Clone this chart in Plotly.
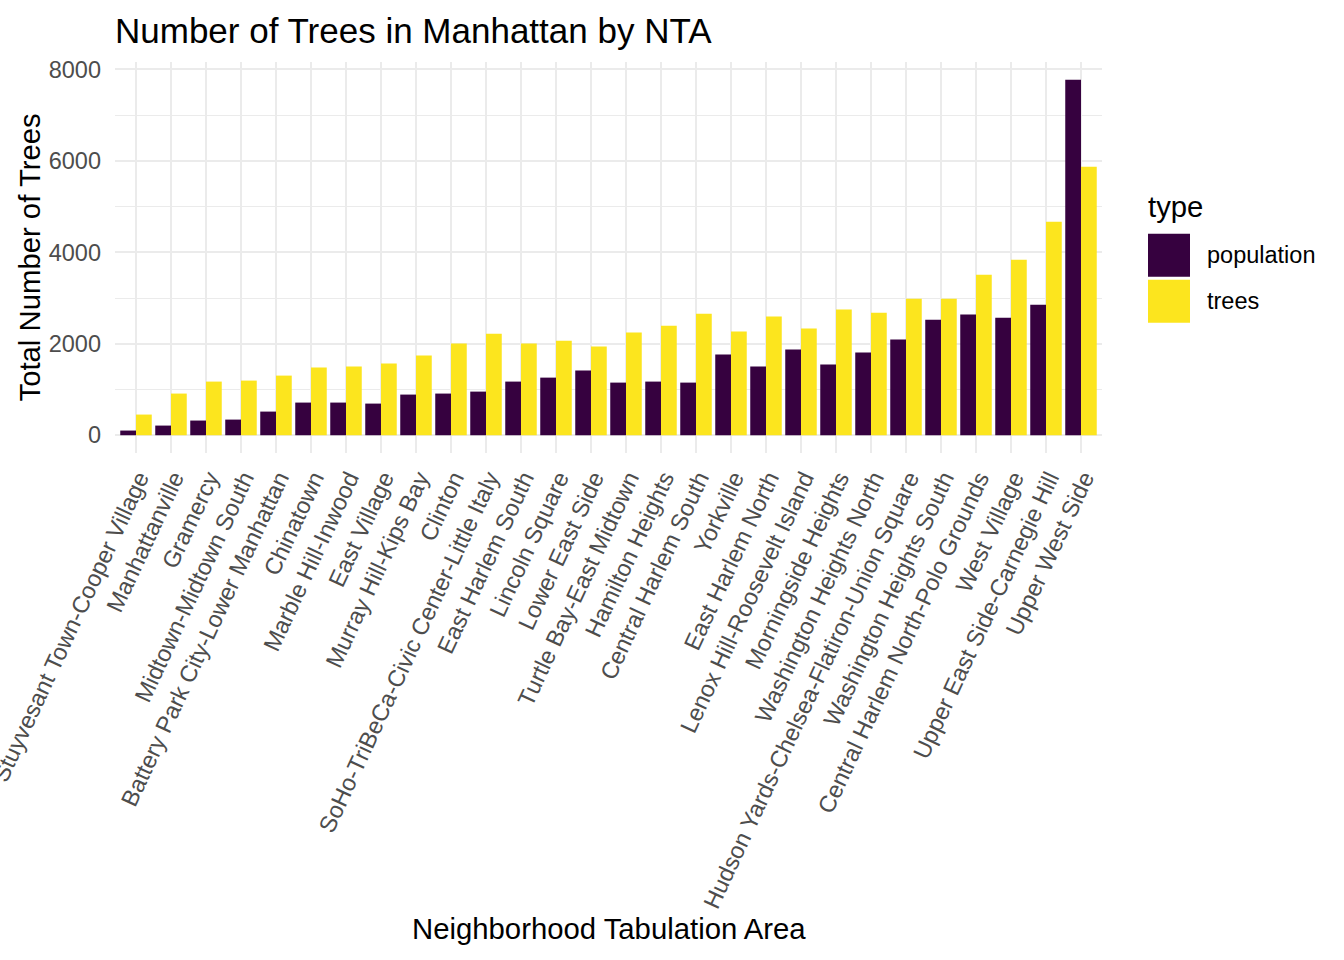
import plotly.graph_objects as go

# ---------------- data ----------------
neighborhoods = [
    "Stuyvesant Town-Cooper Village", "Manhattanville", "Gramercy",
    "Midtown-Midtown South", "Battery Park City-Lower Manhattan", "Chinatown",
    "Marble Hill-Inwood", "East Village", "Murray Hill-Kips Bay", "Clinton",
    "SoHo-TriBeCa-Civic Center-Little Italy", "East Harlem South", "Lincoln Square",
    "Lower East Side", "Turtle Bay-East Midtown", "Hamilton Heights",
    "Central Harlem South", "Yorkville", "East Harlem North",
    "Lenox Hill-Roosevelt Island", "Morningside Heights", "Washington Heights North",
    "Hudson Yards-Chelsea-Flatiron-Union Square", "Washington Heights South",
    "Central Harlem North-Polo Grounds", "West Village",
    "Upper East Side-Carnegie Hill", "Upper West Side",
]
population = [102, 211, 321, 342, 517, 714, 714, 692, 889, 911,
              954, 1173, 1260, 1413, 1151, 1173, 1151, 1763, 1501,
              1873, 1545, 1807, 2091, 2528, 2638, 2572, 2856, 7774]
trees = [452, 911, 1173, 1195, 1304, 1479, 1501, 1566, 1741, 2004,
         2222, 2004, 2069, 1938, 2244, 2397, 2659, 2266, 2594,
         2332, 2747, 2681, 2987, 2987, 3512, 3840, 4670, 5872]
series_names = ["population", "trees"]
y_tickvals = [0, 2000, 4000, 6000, 8000]

# ---------------- style ----------------
W, H = 1344, 960
L, R, T, B = 115, 1102, 62, 453.5
FONT = "Liberation Sans, Arial, Helvetica, sans-serif"
COLORS = {"population": "#36013F", "trees": "#FCE51E"}
GRID = "#EBEBEB"
TICK_COL = "#4D4D4D"


def px_x(px):
    return (px - L) / (R - L)


def px_y(py):
    return (B - py) / (B - T)


fig = go.Figure()
for name, vals in zip(series_names, [population, trees]):
    fig.add_trace(go.Bar(
        name=name, x=neighborhoods, y=vals,
        marker=dict(color=COLORS[name], line=dict(width=0)),
        showlegend=False,
    ))

ymax = max(max(population), max(trees))
pad = 0.05 * ymax
n = len(neighborhoods)

fig.update_layout(
    width=W, height=H,
    margin=dict(l=L, r=W - R, t=T, b=H - B, pad=0, autoexpand=False),
    paper_bgcolor="white", plot_bgcolor="white",
    barmode="group", bargap=0.1, bargroupgap=0,
    font=dict(family=FONT, color="black"),
    title=dict(text="Number of Trees in Manhattan by NTA",
               font=dict(size=35, color="black", family=FONT),
               x=L / W, xanchor="left", xref="container",
               y=1 - 31 / H, yanchor="middle", yref="container"),
    xaxis=dict(
        type="category", range=[-0.6, n - 0.4], automargin=False,
        tickangle=-65, tickfont=dict(size=23.5, color=TICK_COL, family=FONT),
        showgrid=True, gridcolor=GRID, gridwidth=2.2,
        showline=False, zeroline=False, ticks="",
        ticklabelstandoff=6, ticklabelshift=3,
    ),
    yaxis=dict(
        range=[-pad, ymax + pad], automargin=False,
        tickvals=y_tickvals, ticktext=[str(v) for v in y_tickvals],
        tickfont=dict(size=23.5, color=TICK_COL, family=FONT),
        showgrid=True, gridcolor=GRID, gridwidth=2.2,
        minor=dict(dtick=1000, tick0=0, showgrid=True, gridcolor=GRID, gridwidth=1.1),
        showline=False, zeroline=False, ticks="",
        ticklabelstandoff=13,
    ),
)

annotations = [
    dict(text="Neighborhood Tabulation Area", x=(px_x(L) + px_x(R)) / 2, y=px_y(930),
         xref="paper", yref="paper", xanchor="center", yanchor="middle",
         showarrow=False, font=dict(size=29.3, color="black", family=FONT)),
    dict(text="Total Number of Trees", x=px_x(29), y=0.5, textangle=-90,
         xref="paper", yref="paper", xanchor="center", yanchor="middle",
         showarrow=False, font=dict(size=29.3, color="black", family=FONT)),
    dict(text="type", x=px_x(1146), y=px_y(207),
         xref="paper", yref="paper", xanchor="left", yanchor="middle",
         showarrow=False, font=dict(size=29.3, color="black", family=FONT)),
]

# legend keys (drawn as decoration in paper space)
key_left, key_w, key_h, key_top, key_gap = 1148, 42, 43, 234, 3
shapes = []
for i, name in enumerate(series_names):
    top = key_top + i * (key_h + key_gap)
    shapes.append(dict(type="rect", xref="paper", yref="paper",
                       x0=px_x(key_left), x1=px_x(key_left + key_w),
                       y0=px_y(top + key_h), y1=px_y(top),
                       fillcolor=COLORS[name], line=dict(width=0)))
    annotations.append(dict(text=name, x=px_x(key_left + key_w + 15),
                            y=px_y(top + key_h / 2),
                            xref="paper", yref="paper", xanchor="left", yanchor="middle",
                            showarrow=False,
                            font=dict(size=23.5, color="black", family=FONT)))

fig.update_layout(annotations=annotations, shapes=shapes)

fig.write_html("out.html")
